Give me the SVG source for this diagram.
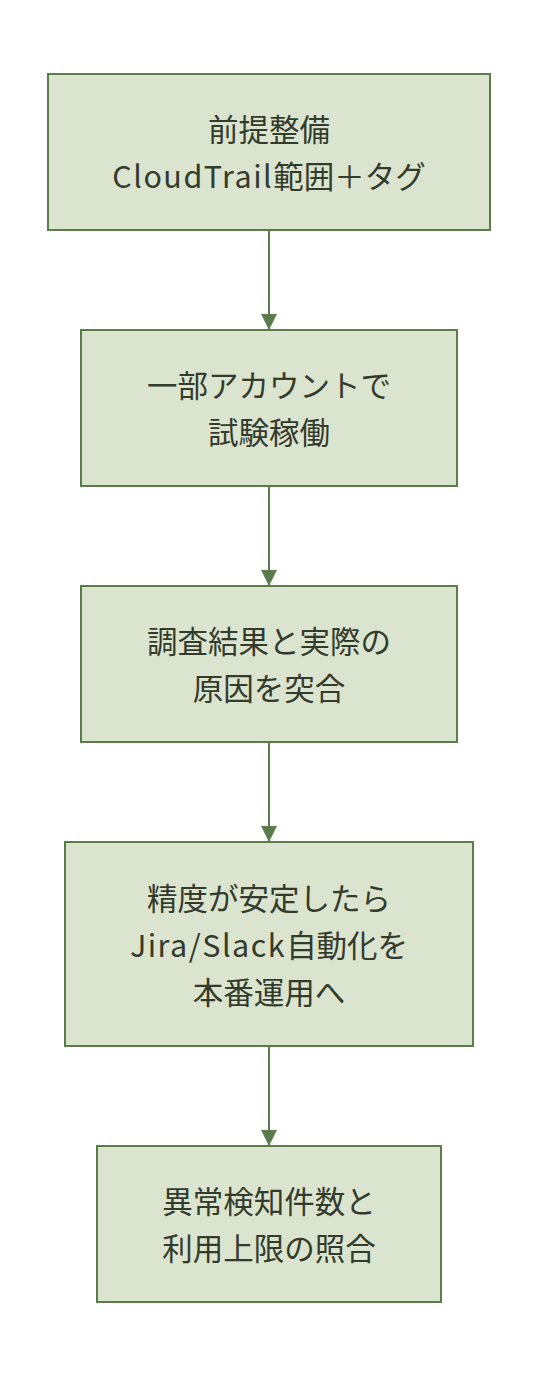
<svg xmlns="http://www.w3.org/2000/svg" width="538" height="1380" viewBox="0 0 538 1380">
<style>
.box{fill:#dbe4cf;stroke:#5a7d4b;stroke-width:2}
.lbl{font-family:"Noto Sans CJK JP","Noto Sans",sans-serif;font-size:30.5px;fill:#333b2c;text-anchor:middle;dominant-baseline:central}
.lat{letter-spacing:1.5px}
.edge{stroke:#5a7d4b;stroke-width:2;fill:none}
</style>
<defs>
<marker id="arr" markerUnits="userSpaceOnUse" markerWidth="16" markerHeight="16" refX="16" refY="8" orient="auto">
<path d="M0,0 L16,8 L0,16 Z" fill="#5a7d4b"/>
</marker>
</defs>
<rect width="538" height="1380" fill="#fff"/>
<g id="connectors">
<line class="edge" x1="269" y1="230" x2="269" y2="330" marker-end="url(#arr)"/>
<line class="edge" x1="269" y1="486" x2="269" y2="586" marker-end="url(#arr)"/>
<line class="edge" x1="269" y1="742" x2="269" y2="842" marker-end="url(#arr)"/>
<line class="edge" x1="269" y1="1046" x2="269" y2="1146" marker-end="url(#arr)"/>
</g>
<g id="n1">
<rect class="box" x="48" y="74" width="442" height="156"/>
<text class="lbl" x="269" y="128">前提整備</text>
<text class="lbl" x="269" y="175"><tspan class="lat">CloudTrail</tspan>範囲＋タグ</text>
</g>
<g id="n2">
<rect class="box" x="81" y="330" width="376" height="156"/>
<text class="lbl" x="269" y="384">一部アカウントで</text>
<text class="lbl" x="269" y="431">試験稼働</text>
</g>
<g id="n3">
<rect class="box" x="81" y="586" width="376" height="156"/>
<text class="lbl" x="269" y="640">調査結果と実際の</text>
<text class="lbl" x="269" y="687">原因を突合</text>
</g>
<g id="n4">
<rect class="box" x="65" y="842" width="408" height="204"/>
<text class="lbl" x="269" y="896.5">精度が安定したら</text>
<text class="lbl" x="269" y="943.5"><tspan class="lat">Jira/Slack</tspan>自動化を</text>
<text class="lbl" x="269" y="990.5">本番運用へ</text>
</g>
<g id="n5">
<rect class="box" x="97" y="1146" width="344" height="156"/>
<text class="lbl" x="269" y="1200">異常検知件数と</text>
<text class="lbl" x="269" y="1247">利用上限の照合</text>
</g>
</svg>
